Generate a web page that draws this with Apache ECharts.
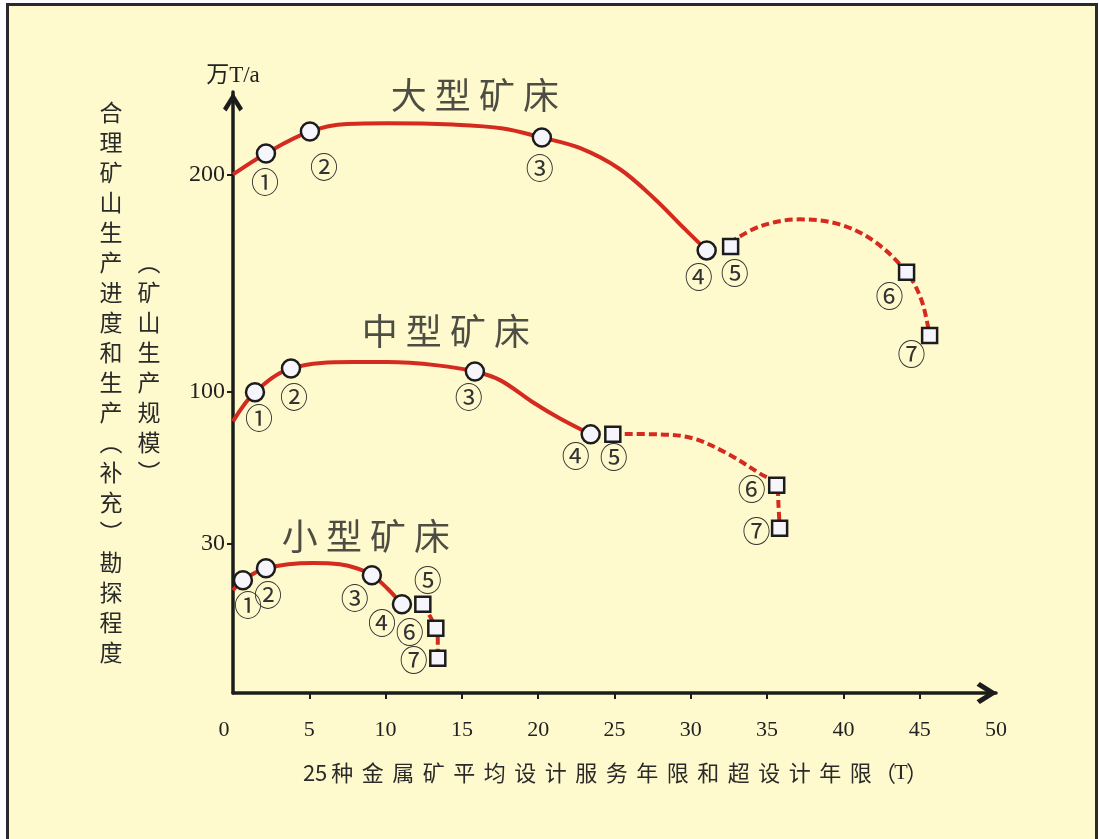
<!DOCTYPE html>
<html><head><meta charset="utf-8">
<script src="https://cdn.jsdelivr.net/npm/echarts@6/dist/echarts.min.js"></script>
<style>
html,body{margin:0;padding:0;background:#fff;}
#frame{position:absolute;left:6px;top:3px;width:1092px;height:880px;border:3px solid #2a2a2a;background:#FFFACD;box-sizing:border-box;}
#chart{position:absolute;left:0;top:0;width:1099px;height:839px;}
</style></head><body>
<div id="frame"></div><div id="chart"></div>
<script>
// ---------- data ----------
const circled = ['①','②','③','④','⑤','⑥','⑦'];
const groupNames = ['大型矿床','中型矿床','小型矿床'];
const groupTitlePos = [[15.85,236.4],[13.95,127.7],[8.71,33.2]];
const xTickValues = [0,5,10,15,20,25,30,35,40,45,50];
const yTickValues = [30,100,200];
const xAxisTitle = '25种金属矿平均设计服务年限和超设计年限（T）';
const yAxisTitle1 = '合理矿山生产进度和生产︵补充︶勘探程度';
const yAxisTitle2 = '︵矿山生产规模︶';
// marker points: ①-④ circles, ⑤-⑦ squares
const largePoints  = [[2.16,209.7],[5.04,219.8],[20.24,217.0],[31.04,165.0],[32.61,166.8],[44.14,154.9],[45.65,125.8]];
const mediumPoints = [[1.44,99.6],[3.80,110.6],[15.85,109.2],[23.44,80.2],[24.89,80.2],[35.63,56.7],[35.82,36.9]];
const smallPoints  = [[0.65,13.0],[2.16,18.5],[9.10,15.3],[11.07,1.9],[12.44,1.9],[13.29,-9.2],[13.42,-23.0]];
// curves
const largeSolid  = [[0,200],[2.16,209.7],[5.04,219.8],[7.47,223.3],[10.1,223.6],[14.4,223.0],[17.7,221.2],[20.24,217.0],[22.72,212.2],[25.34,202.5],[27.64,188.7],[29.6,174.9],[31.04,165.0]];
const largeDashed = [[32.55,168.5],[34.51,176.0],[37.13,179.3],[39.75,177.0],[42.04,169.1],[44.14,154.9],[45.12,142.0],[45.65,125.8]];
const mediumSolid  = [[0,86.2],[1.44,99.6],[3.80,110.6],[7.86,113.5],[10.1,113.5],[13.4,112.0],[15.85,109.2],[17.5,105.2],[19.65,95.0],[21.4,87.6],[23.44,80.2]];
const mediumDashed = [[24.89,80.4],[27.96,80.2],[30.12,78.4],[32.35,71.5],[34.51,62.2],[35.63,56.7],[35.75,47.0],[35.82,36.9]];
const smallSolid  = [[0,8.35],[0.65,13.0],[2.16,18.5],[5.24,20.9],[7.0,20.3],[8.1,18.5],[9.10,15.3],[10.1,9.3],[11.07,1.9]];
const smallDashed = [[12.44,1.9],[12.9,-3.5],[13.29,-9.2],[13.42,-14.3],[13.42,-23.0]];

// ---------- layout / style ----------
const largeOffsets  = [[-1,29],[14,36],[-2,31],[-8,27],[4,27],[-17,24],[-18,19]];
const mediumOffsets = [[4,26],[3,29],[-6,26],[-15,22],[1,23],[-25,4],[-23,3]];
const smallOffsets  = [[5,25],[2,27],[-17,23],[-20,19],[5,-24],[-26,4],[-24,2]];
const RED = '#D42A1F';
const INK = '#1c1c1c';
const CJK = "'Noto Sans CJK SC', sans-serif";
const SERIF = "'Liberation Serif', 'Noto Sans CJK SC', serif";
const arrowPath = 'path://M10,0 L20,16 L16.5,19 L10,8.5 L3.5,19 L0,16 Z';

function markerSeries(points, offsets) {
  return {
    type: 'scatter', z: 5,
    data: points.map((p, i) => ({
      value: p,
      symbol: i < 4 ? 'circle' : 'rect',
      symbolSize: i < 4 ? 18 : 15,
      label: { offset: offsets[i] }
    })),
    itemStyle: { color: '#F5F5FB', borderColor: INK, borderWidth: 2.5, opacity: 1 },
    label: {
      show: true, position: 'inside',
      formatter: p => circled[p.dataIndex],
      fontSize: 28, color: '#333', fontFamily: CJK
    },
    emphasis: { disabled: true }
  };
}
function lineSeries(data, dashed) {
  return {
    type: 'line', z: 3, data: data, smooth: 0.35, showSymbol: false, symbol: 'none',
    lineStyle: { color: RED, width: 4, type: dashed ? [8, 4] : 'solid' },
    emphasis: { disabled: true }
  };
}
// spaced axis title built from fixed-width rich-text cells
function cellKind(ch) {
  if (/[0-9]/.test(ch)) return 'n';
  if (ch === '（' || ch === '）') return 'p';
  if (/[A-Za-z]/.test(ch)) return 't';
  return 'c';
}
const xNameRich = xAxisTitle.split('').map(ch => '{' + cellKind(ch) + '|' + ch + '}').join('');
const cellBase = { fontSize: 22, color: '#2a2a2a', fontFamily: CJK };

const chart = echarts.init(document.getElementById('chart'), null, { renderer: 'canvas' });
chart.setOption({
  backgroundColor: 'transparent',
  animation: false,
  grid: { left: 233, right: 103, top: 92, bottom: 146, containLabel: false, outerBoundsMode: 'none' },
  xAxis: {
    type: 'value', min: 0, max: 50, interval: 5,
    splitLine: { show: false },
    axisLine: { show: true, onZero: false, lineStyle: { color: INK, width: 3.5 },
      symbol: ['none', arrowPath], symbolSize: [22, 22], symbolOffset: [0, -9] },
    axisTick: { show: true, inside: false, length: 6, lineStyle: { color: INK, width: 2 },
      customValues: xTickValues.slice(1, -1) },
    axisLabel: {
      margin: 26, fontSize: 22, color: '#222', fontFamily: SERIF,
      formatter: v => v === 0 ? '{z|0}' : String(v),
      rich: { z: { fontSize: 22, color: '#222', fontFamily: SERIF, padding: [0, 18, 0, 0] } }
    },
    name: xNameRich,
    nameLocation: 'middle', nameGap: 69,
    nameTextStyle: {
      fontSize: 22, color: '#2a2a2a', fontFamily: CJK,
      rich: {
        n: Object.assign({ width: 12 }, cellBase),
        c: Object.assign({ width: 30.5 }, cellBase),
        p: Object.assign({ width: 18 }, cellBase),
        t: Object.assign({ width: 14 }, cellBase, { fontFamily: SERIF })
      }
    }
  },
  yAxis: {
    type: 'value', min: -39, max: 238,
    splitLine: { show: false },
    axisLine: { show: true, onZero: false, lineStyle: { color: INK, width: 3.5 },
      symbol: ['none', arrowPath], symbolSize: [20, 20], symbolOffset: [0, -10] },
    axisTick: { show: true, inside: false, length: 6, lineStyle: { color: INK, width: 2 },
      customValues: yTickValues },
    axisLabel: { customValues: yTickValues, margin: 8, fontSize: 24, color: '#222', fontFamily: SERIF },
    name: '万T/a', nameLocation: 'end', nameGap: 5,
    nameTextStyle: { fontSize: 23, color: '#222', fontFamily: SERIF, align: 'center' }
  },
  graphic: [
    { type: 'text', x: 111, y: 97, z: 10,
      style: { text: yAxisTitle1.split('').join('\n'),
        fontSize: 23, lineHeight: 30, fontFamily: CJK, fill: '#2a2a2a',
        align: 'center', textAlign: 'center', verticalAlign: 'top', textVerticalAlign: 'top' } },
    { type: 'text', x: 149, y: 247, z: 10,
      style: { text: yAxisTitle2.split('').join('\n'),
        fontSize: 23, lineHeight: 30, fontFamily: CJK, fill: '#2a2a2a',
        align: 'center', textAlign: 'center', verticalAlign: 'top', textVerticalAlign: 'top' } }
  ],
  series: [
    lineSeries(largeSolid, false), lineSeries(largeDashed, true),
    lineSeries(mediumSolid, false), lineSeries(mediumDashed, true),
    lineSeries(smallSolid, false), lineSeries(smallDashed, true),
    markerSeries(largePoints, largeOffsets),
    markerSeries(mediumPoints, mediumOffsets),
    markerSeries(smallPoints, smallOffsets),
    {
      type: 'scatter', z: 4, symbolSize: 0,
      data: groupTitlePos.map((p, i) => ({ value: p, name: groupNames[i] })),
      label: { show: true, position: 'inside', formatter: p => p.name.split('').join(' '),
        fontSize: 36, color: '#222', fontFamily: CJK },
      emphasis: { disabled: true }
    }
  ]
});
</script>
</body></html>
